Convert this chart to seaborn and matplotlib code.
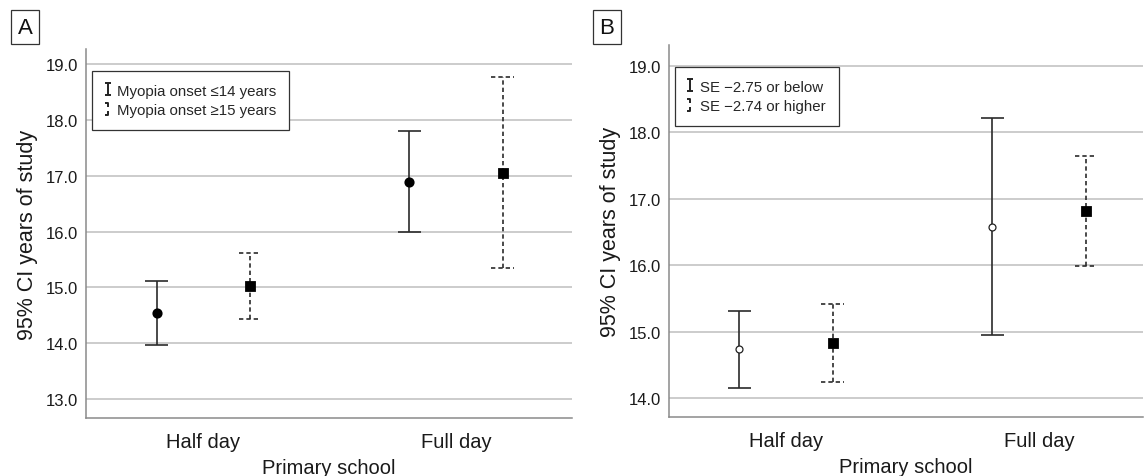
import numpy as np
import pandas as pd
import matplotlib
matplotlib.use("Agg")
import matplotlib.pyplot as plt
import seaborn as sns
from matplotlib.lines import Line2D
from matplotlib.path import Path

sns.set_style("white")
plt.rcParams['font.family'] = ['Liberation Sans', 'DejaVu Sans']

# ---- data ---------------------------------------------------------------
schools = ['Half day', 'Full day']

# panel A : age of myopia onset
a_groups = ['Myopia onset ≤14 years', 'Myopia onset ≥15 years']
a_mean_le14 = [14.54, 16.89]
a_lo_le14 = [13.97, 15.99]
a_hi_le14 = [15.11, 17.80]
a_mean_ge15 = [15.02, 17.05]
a_lo_ge15 = [14.43, 15.35]
a_hi_ge15 = [15.62, 18.76]
a_yticks = [13.0, 14.0, 15.0, 16.0, 17.0, 18.0, 19.0]

# panel B : spherical equivalent
b_groups = ['SE −2.75 or below', 'SE −2.74 or higher']
b_mean_low = [14.74, 16.58]
b_lo_low = [14.16, 14.95]
b_hi_low = [15.32, 18.21]
b_mean_high = [14.83, 16.82]
b_lo_high = [14.25, 15.99]
b_hi_high = [15.42, 17.64]
b_yticks = [14.0, 15.0, 16.0, 17.0, 18.0, 19.0]


def make_df(groups, means, los, his):
    rows = []
    for g, m, lo, hi in zip(groups, means, los, his):
        for s, mv, lv, hv in zip(schools, m, lo, hi):
            rows.append({'school': s, 'group': g, 'mean': mv, 'lo': lv, 'hi': hv})
    return pd.DataFrame(rows)


df_a = make_df(a_groups, [a_mean_le14, a_mean_ge15], [a_lo_le14, a_lo_ge15], [a_hi_le14, a_hi_ge15])
df_b = make_df(b_groups, [b_mean_low, b_mean_high], [b_lo_low, b_lo_high], [b_hi_low, b_hi_high])

DODGE = 0.37
CAPW = 0.045
BAR_COLOR = '#2b2b2b'
line_styles = ['-', (0, (2.6, 1.8))]

M, L = Path.MOVETO, Path.LINETO
solid_icon = Path([(-0.5, 1), (0.5, 1), (0, 1), (0, -1), (-0.5, -1), (0.5, -1)],
                  [M, L, M, L, M, L])
dashed_icon = Path([(-0.5, 1), (0, 1), (0, 0.35), (0, -0.35), (0, -1), (-0.5, -1)],
                   [M, L, L, M, L, L])


def draw_panel(ax, df, groups, yticks, ylim, xlim, open_first=False):
    sns.pointplot(data=df, x='school', y='mean', hue='group', hue_order=groups,
                  order=schools, dodge=DODGE, markers=['o', 's'], linestyle='none',
                  errorbar=None, palette=['black', 'black'], legend=False,
                  markersize=5.3, ax=ax)
    for ln in ax.lines:
        ln.set_zorder(4)
        if open_first and ln.get_marker() == 'o':
            ln.set_markerfacecolor('white')
            ln.set_markeredgecolor('#222222')
            ln.set_markersize(5)
            ln.set_markeredgewidth(0.9)

    # error bars with caps (dashed caps for second group)
    offsets = np.linspace(0, DODGE, len(groups)) - DODGE / 2
    for gi, g in enumerate(groups):
        sub = df[df['group'] == g].set_index('school').loc[schools]
        xs = np.arange(len(schools)) + offsets[gi]
        ax.vlines(xs, sub['lo'], sub['hi'], colors=BAR_COLOR, linestyles=[line_styles[gi]],
                  lw=1.2, zorder=3)
        for col in ['lo', 'hi']:
            ax.hlines(sub[col], xs - CAPW, xs + CAPW, colors=BAR_COLOR,
                      linestyles=[line_styles[gi]], lw=1.2, zorder=3)

    ax.set_xlim(*xlim)
    ax.set_ylim(*ylim)
    ax.set_yticks(yticks)
    ax.set_yticklabels([f'{t:.1f}' for t in yticks])
    ax.yaxis.grid(True, color='#c8c8c8', lw=1.3, zorder=0)
    ax.xaxis.grid(False)
    ax.set_axisbelow(True)
    for side in ['top', 'right']:
        ax.spines[side].set_visible(False)
    for side in ['left', 'bottom']:
        ax.spines[side].set_color('#8a8a8a')
        ax.spines[side].set_linewidth(1.1)
    ax.tick_params(axis='y', length=0, pad=6, labelsize=12, colors='#1a1a1a')
    ax.tick_params(axis='x', length=0, pad=10, labelsize=14.5, colors='#1a1a1a')
    ax.set_xlabel('Primary school', fontsize=14.5, labelpad=5, color='#1a1a1a')
    ax.set_ylabel('95% CI years of study', fontsize=15.5, labelpad=5, color='#1a1a1a')

    handles = [
        Line2D([], [], ls='none', marker=solid_icon, markersize=9, markerfacecolor='none',
               markeredgecolor='#222222', markeredgewidth=1.4),
        Line2D([], [], ls='none', marker=dashed_icon, markersize=9, markerfacecolor='none',
               markeredgecolor='#222222', markeredgewidth=1.4),
    ]
    leg = ax.legend(handles, groups, loc='upper left', bbox_to_anchor=(0.012, 0.941),
                    borderaxespad=0, fontsize=10.8, handlelength=0.4, handletextpad=0.45,
                    labelspacing=0.35, borderpad=0.85, fancybox=False, framealpha=1,
                    edgecolor='#333333')
    leg.get_frame().set_linewidth(0.9)


fig = plt.figure(figsize=(11.45, 4.77), dpi=100)
ax_a = fig.add_axes([0.0751, 0.1216, 0.4245, 0.7736])
ax_b = fig.add_axes([0.5843, 0.1237, 0.4140, 0.7800])

draw_panel(ax_a, df_a, a_groups, a_yticks, (12.66, 19.27), (-0.464, 1.459))
draw_panel(ax_b, df_b, b_groups, b_yticks, (13.72, 19.31), (-0.462, 1.41), open_first=True)

for label, xf in [('A', 0.0218), ('B', 0.5300)]:
    fig.text(xf, 0.941, label, fontsize=16, ha='center', va='center', color='#111111',
             bbox=dict(boxstyle='square,pad=0.28', fc='white', ec='#333333', lw=0.9))

fig.savefig('out.png', dpi=100)
